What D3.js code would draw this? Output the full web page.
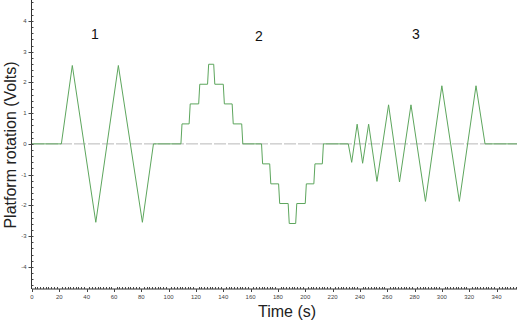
<!DOCTYPE html>
<html>
<head>
<meta charset="utf-8">
<script src="https://cdn.jsdelivr.net/npm/d3@7"></script>
<style>
  body { margin: 0; background: #fff; }
  svg { display: block; font-family: "Liberation Sans", Arial, sans-serif; }
</style>
</head>
<body>
<div id="chart"></div>
<script>
// time (s) and platform rotation (V)
const times = [0, 21.5, 29.5, 46.7, 63.2, 80.8, 88.9, 109,
  109.8, 115, 115.8, 122, 122.8, 128.5, 129.3, 133, 133.8, 140, 140.8, 146.5, 147.3, 153.5, 154.3,
  168, 168.8, 174, 174.8, 180.5, 181.3, 187.5, 188.3, 193, 193.8, 200, 200.8, 206.3, 207.1, 212.5, 213.3,
  231.5, 234, 238, 242, 246.4, 252.5, 261, 269, 277.4, 288, 300, 312.8, 325, 331.6, 355];
const volts = [0, 0, 2.55, -2.55, 2.55, -2.55, 0, 0,
  0.65, 0.65, 1.3, 1.3, 1.94, 1.94, 2.59, 2.59, 1.94, 1.94, 1.3, 1.3, 0.65, 0.65, 0,
  0, -0.65, -0.65, -1.3, -1.3, -1.94, -1.94, -2.59, -2.59, -1.94, -1.94, -1.3, -1.3, -0.65, -0.65, 0,
  0, -0.6, 0.64, -0.63, 0.64, -1.22, 1.27, -1.24, 1.27, -1.87, 1.89, -1.87, 1.89, 0, 0];

const sectionLabels = ['1', '2', '3'];
const sectionTimes = [46, 166, 281];
const sectionVolts = [3.4, 3.35, 3.4];

const xTicks = d3.range(0, 341, 20);
const yTicks = [-4, -3, -2, -1, 0, 1, 2, 3, 4];

const svgWidth = 518, svgHeight = 322;
const x = d3.scaleLinear().domain([0, 355]).range([32, 517]);
const y = d3.scaleLinear().domain([-4.72, 4.68]).range([289, 0]);

const svg = d3.select('#chart').append('svg')
  .attr('width', svgWidth)
  .attr('height', svgHeight);

// zero reference line
svg.append('line')
  .attr('x1', x(0)).attr('x2', x(355))
  .attr('y1', y(0)).attr('y2', y(0))
  .attr('stroke', '#b8b8b8')
  .attr('stroke-dasharray', '12,2')
  .attr('stroke-width', 1);

// trace
const pts = times.map((t, i) => [t, volts[i]]);
const line = d3.line().x(d => x(d[0])).y(d => y(d[1]));
svg.append('path')
  .datum(pts)
  .attr('d', line)
  .attr('fill', 'none')
  .attr('stroke', '#5da65d')
  .attr('stroke-width', 1);

// x axis with minor ticks
const xAxisG = svg.append('g')
  .attr('transform', 'translate(0,' + y.range()[0] + ')');
xAxisG.append('line')
  .attr('x1', x.range()[0]).attr('x2', x.range()[1])
  .attr('stroke', '#333');
xAxisG.selectAll('.minor')
  .data(d3.range(0, 355, 2))
  .enter().append('line')
  .attr('x1', d => Math.round(x(d)) + 0.5).attr('x2', d => Math.round(x(d)) + 0.5)
  .attr('y1', 0).attr('y2', d => d % 20 === 0 ? 3 : -2)
  .attr('stroke', '#444');
xAxisG.selectAll('.lbl')
  .data(xTicks)
  .enter().append('text')
  .attr('x', d => x(d))
  .attr('y', 10)
  .attr('text-anchor', 'middle')
  .attr('font-size', '6px')
  .attr('fill', '#444')
  .text(d => d);

// y axis with minor ticks
const yAxisG = svg.append('g')
  .attr('transform', 'translate(' + (x.range()[0] - 0.5) + ',0)');
yAxisG.append('line')
  .attr('y1', y.range()[0]).attr('y2', 0)
  .attr('stroke', '#333');
yAxisG.selectAll('.minor')
  .data(d3.range(-4.6, 4.61, 0.2))
  .enter().append('line')
  .attr('y1', d => Math.round(y(d)) + 0.5).attr('y2', d => Math.round(y(d)) + 0.5)
  .attr('x1', d => Math.abs(d - Math.round(d)) < 0.01 ? -3 : 0)
  .attr('x2', 2)
  .attr('stroke', '#444');
yAxisG.selectAll('.lbl')
  .data(yTicks)
  .enter().append('text')
  .attr('x', -5)
  .attr('y', d => y(d) + 2)
  .attr('text-anchor', 'end')
  .attr('font-size', '6px')
  .attr('fill', '#444')
  .text(d => d);

// section numbers
svg.selectAll('.sec')
  .data(sectionLabels)
  .enter().append('text')
  .attr('x', (d, i) => x(sectionTimes[i]))
  .attr('y', (d, i) => y(sectionVolts[i]))
  .attr('text-anchor', 'middle')
  .attr('font-size', '14px')
  .attr('fill', '#111')
  .text(d => d);

// axis titles
svg.append('text')
  .attr('x', 287).attr('y', 317)
  .attr('text-anchor', 'middle')
  .attr('font-size', '16px')
  .attr('fill', '#222')
  .text('Time (s)');

svg.append('text')
  .attr('transform', 'translate(16,145) rotate(-90)')
  .attr('text-anchor', 'middle')
  .attr('font-size', '16px')
  .attr('fill', '#222')
  .text('Platform rotation (Volts)');
</script>
</body>
</html>
